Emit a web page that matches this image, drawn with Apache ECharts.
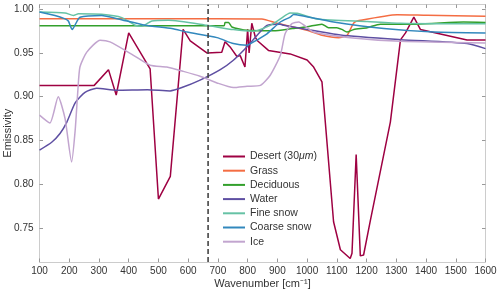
<!DOCTYPE html>
<html><head><meta charset="utf-8">
<script src="https://cdn.jsdelivr.net/npm/echarts@6/dist/echarts.min.js"></script>
<style>html,body{margin:0;padding:0;background:#fff}#c{width:500px;height:294px}</style>
</head><body><div id="c"></div>
<script>
var seriesNames = ['Desert (30μm)','Grass','Deciduous','Water','Fine snow','Coarse snow','Ice'];
var xTicks = [100,200,300,400,500,600,700,800,900,1000,1100,1200,1300,1400,1500,1600];
var yTicks = [0.75,0.80,0.85,0.90,0.95,1.00];
var co2Line = 667;
var desert = [[100,0.913],[284,0.913],[332,0.931],[358,0.902],[400,0.973],[472,0.932],[500,0.783],[540,0.809],[583,0.977],[607,0.964],[664,0.950],[713,0.951],[724,0.963],[741,0.957],[764,0.946],[775,0.947],[791,0.934],[800,0.977],[805,0.950],[814,0.984],[826,0.968],[833,0.964],[870,0.953],[943,0.949],[1000,0.942],[1022,0.934],[1050,0.917],[1089,0.757],[1112,0.725],[1145,0.715],[1151,0.721],[1165,0.834],[1179,0.718],[1190,0.719],[1213,0.759],[1280,0.871],[1314,0.965],[1331,0.973],[1359,0.991],[1381,0.977],[1538,0.965],[1600,0.965]];
var grass = [[100,0.9893],[700,0.9893],[848,0.989],[899,0.984],[1000,0.976],[1050,0.9703],[1106,0.9676],[1134,0.970],[1157,0.9844],[1179,0.9874],[1303,0.9939],[1404,0.9931],[1600,0.992]];
var deciduous = [[100,0.9813],[721,0.9813],[724,0.9848],[736,0.9848],[747,0.9798],[798,0.976],[887,0.9755],[950,0.978],[1000,0.980],[1050,0.983],[1072,0.979],[1100,0.979],[1117,0.977],[1134,0.974],[1157,0.977],[1202,0.979],[1246,0.983],[1370,0.983],[1526,0.9855],[1600,0.985]];
var water = [[100,0.839],[141,0.848],[169,0.858],[192,0.871],[220,0.893],[253,0.905],[292,0.9097],[360,0.9074],[463,0.908],[539,0.9067],[579,0.9105],[640,0.919],[708,0.931],[752,0.9417],[803,0.9589],[865,0.9817],[910,0.983],[921,0.9817],[1112,0.9707],[1314,0.9653],[1538,0.9608],[1600,0.955]];
var fineSnow = [[100,0.997],[186,0.9958],[214,0.993],[231,0.995],[309,0.9943],[377,0.9905],[422,0.9817],[444,0.9806],[478,0.9866],[534,0.9874],[663,0.9817],[752,0.9768],[820,0.975],[876,0.9817],[910,0.989],[943,0.9958],[966,0.9955],[1033,0.989],[1202,0.986],[1314,0.984],[1426,0.9836],[1600,0.9836]];
var coarseSnow = [[100,0.997],[152,0.993],[186,0.989],[197,0.9866],[210,0.9768],[222,0.9836],[236,0.991],[309,0.993],[365,0.989],[455,0.9817],[545,0.978],[596,0.974],[697,0.9676],[752,0.9608],[798,0.959],[820,0.9627],[865,0.972],[910,0.9855],[943,0.991],[955,0.994],[977,0.993],[1089,0.9855],[1258,0.978],[1426,0.974],[1600,0.973]];
var ice = [[100,0.879],[135,0.870],[163,0.900],[186,0.875],[208,0.8255],[220,0.8617],[229,0.907],[236,0.934],[259,0.951],[304,0.9646],[337,0.9627],[416,0.9474],[472,0.936],[528,0.934],[584,0.929],[640,0.9234],[697,0.9158],[752,0.9105],[798,0.912],[843,0.913],[876,0.9246],[910,0.9474],[926,0.972],[949,0.9836],[971,0.9855],[1022,0.974],[1145,0.9676],[1314,0.9634],[1600,0.9615]];

var colors = ['#9e0142','#f46d43','#33a02c','#5e4fa2','#66c2a5','#3288bd','#c2a5cf'];
var datas = [desert,grass,deciduous,water,fineSnow,coarseSnow,ice];
var FONT = 'Liberation Sans';
var axisCol = '#cccccc';
var series = datas.map(function(d,i){
  var s = {name: seriesNames[i], type:'line', data:d, symbol:'none', smooth: i===0?false:0.2,
    lineStyle:{color:colors[i], width:1.5}, itemStyle:{color:colors[i]}, z: 2, animation:false};
  return s;
});
series.push({type:'line', data:[[co2Line,0.711],[co2Line,1.0055]], symbol:'none', silent:true,
  lineStyle:{color:'#444', width:1.6, type:[5,3]}, z:5, animation:false});

var chart = echarts.init(document.getElementById('c'));
chart.setOption({
  animation:false,
  color: colors,
  grid:{left:39.5, right:14.5, top:4.5, bottom:32, show:false, containLabel:false, outerBoundsMode:'none'},
  legend:{
    data: seriesNames, orient:'vertical', left:218, top:146, itemWidth:22, itemHeight:11, itemGap:3.2,
    icon:'path://M0,4.5 L22,4.5 L22,6.5 L0,6.5 Z',
    textStyle:{fontFamily:FONT, fontSize:10.5, color:'#333',
      rich:{i:{fontFamily:FONT, fontSize:10.5, fontStyle:'italic', color:'#333'}, n:{fontFamily:FONT, fontSize:10.5, color:'#333'}}},
    formatter:function(n){ if(n.indexOf('μm')>=0){ return '{n|Desert (30}{i|μm}{n|)}'; } return n; }
  },
  xAxis:[{
    type:'value', min:100, max:1600, interval:100, position:'bottom',
    name:'Wavenumber [cm⁻¹]', nameLocation:'middle', nameGap:16, nameMoveOverlap:false,
    nameTextStyle:{fontFamily:FONT, fontSize:11, color:'#333'},
    axisLine:{show:true, lineStyle:{color:axisCol, width:1}},
    axisTick:{show:true, inside:true, length:3.5, lineStyle:{color:'#999'}},
    axisLabel:{fontFamily:FONT, fontSize:10, color:'#333', margin:4, showMinLabel:true, showMaxLabel:true,
      formatter:function(v){return String(v);}},
    splitLine:{show:false}
  },{
    type:'value', min:100, max:1600, interval:100, position:'top',
    axisLine:{show:true, lineStyle:{color:axisCol, width:1}},
    axisTick:{show:true, inside:true, length:3.5, lineStyle:{color:'#999'}},
    axisLabel:{show:false}, splitLine:{show:false}
  }],
  yAxis:[{
    type:'value', min:0.711, max:1.0055, position:'left',
    name:'Emissivity', nameLocation:'middle', nameGap:26, nameMoveOverlap:false,
    nameTextStyle:{fontFamily:FONT, fontSize:11, color:'#333'},
    axisLine:{show:true, lineStyle:{color:axisCol, width:1}},
    axisTick:{show:true, inside:true, length:3.5, lineStyle:{color:'#999'}, customValues:yTicks},
    axisLabel:{fontFamily:FONT, fontSize:10, color:'#333', margin:6, customValues:yTicks,
      formatter:function(v){return v.toFixed(2);}},
    splitLine:{show:false}
  },{
    type:'value', min:0.711, max:1.0055, position:'right',
    axisLine:{show:true, lineStyle:{color:axisCol, width:1}},
    axisTick:{show:true, inside:true, length:3.5, lineStyle:{color:'#999'}, customValues:yTicks},
    axisLabel:{show:false, customValues:yTicks}, splitLine:{show:false}
  }],
  series: series
});
</script></body></html>
